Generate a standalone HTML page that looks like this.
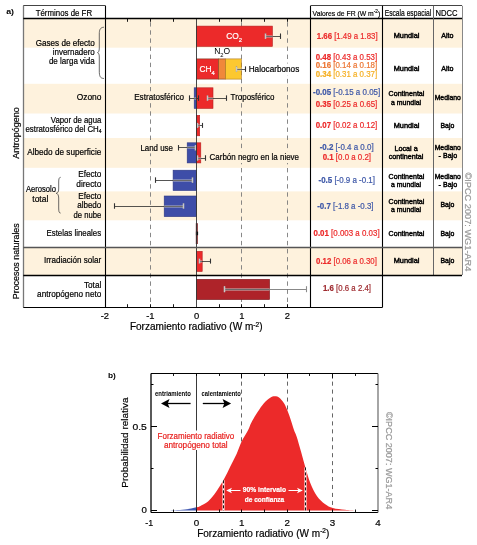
<!DOCTYPE html>
<html><head><meta charset="utf-8"><style>
html,body{margin:0;padding:0;background:#fff;}
body{width:477px;height:545px;overflow:hidden;}
svg{display:block;font-family:"Liberation Sans", sans-serif;will-change:transform;}
text{stroke-width:0.2px;}
</style></head><body>
<svg width="477" height="545" viewBox="0 0 477 545">
<rect x="23.3" y="18.8" width="438.7" height="28.900000000000002" fill="#FEF2DD"/>
<rect x="23.3" y="83.8" width="438.7" height="29.700000000000003" fill="#FEF2DD"/>
<rect x="23.3" y="138.0" width="438.7" height="29.80000000000001" fill="#FEF2DD"/>
<rect x="23.3" y="191.4" width="438.7" height="28.900000000000006" fill="#FEF2DD"/>
<rect x="23.3" y="247.5" width="438.7" height="27.5" fill="#FEF2DD"/>
<line x1="150.5" y1="18.8" x2="150.5" y2="307.2" stroke="#7a7a7a" stroke-width="0.9" stroke-dasharray="4.4 3.7" stroke-dashoffset="4.7"/>
<line x1="241.5" y1="18.8" x2="241.5" y2="307.2" stroke="#7a7a7a" stroke-width="0.9" stroke-dasharray="4.4 3.7" stroke-dashoffset="4.7"/>
<line x1="287.5" y1="18.8" x2="287.5" y2="307.2" stroke="#7a7a7a" stroke-width="0.9" stroke-dasharray="4.4 3.7" stroke-dashoffset="4.7"/>
<line x1="127.5" y1="18.8" x2="127.5" y2="21.8" stroke="#000" stroke-width="0.9" />
<line x1="127.5" y1="307.2" x2="127.5" y2="304.2" stroke="#000" stroke-width="0.9" />
<line x1="150.5" y1="18.8" x2="150.5" y2="21.8" stroke="#000" stroke-width="0.9" />
<line x1="150.5" y1="307.2" x2="150.5" y2="304.2" stroke="#000" stroke-width="0.9" />
<line x1="173.5" y1="18.8" x2="173.5" y2="21.8" stroke="#000" stroke-width="0.9" />
<line x1="173.5" y1="307.2" x2="173.5" y2="304.2" stroke="#000" stroke-width="0.9" />
<line x1="219.5" y1="18.8" x2="219.5" y2="21.8" stroke="#000" stroke-width="0.9" />
<line x1="219.5" y1="307.2" x2="219.5" y2="304.2" stroke="#000" stroke-width="0.9" />
<line x1="241.5" y1="18.8" x2="241.5" y2="21.8" stroke="#000" stroke-width="0.9" />
<line x1="241.5" y1="307.2" x2="241.5" y2="304.2" stroke="#000" stroke-width="0.9" />
<line x1="264.5" y1="18.8" x2="264.5" y2="21.8" stroke="#000" stroke-width="0.9" />
<line x1="264.5" y1="307.2" x2="264.5" y2="304.2" stroke="#000" stroke-width="0.9" />
<line x1="287.5" y1="18.8" x2="287.5" y2="21.8" stroke="#000" stroke-width="0.9" />
<line x1="287.5" y1="307.2" x2="287.5" y2="304.2" stroke="#000" stroke-width="0.9" />
<rect x="196.5" y="26.1" width="75.89999999999998" height="20.3" fill="#EC2A2A" stroke="#b52020" stroke-width="0.6"/>
<line x1="265.0" y1="36.5" x2="280.0" y2="36.5" stroke="#2a2a2a" stroke-width="0.8" />
<line x1="265.5" y1="33.45" x2="265.5" y2="38.95" stroke="#333" stroke-width="1.1" />
<line x1="280.5" y1="33.45" x2="280.5" y2="38.95" stroke="#333" stroke-width="1.1" />
<line x1="265.0" y1="36.5" x2="272.6" y2="36.5" stroke="#c4c4c4" stroke-width="1.9" />
<line x1="265.0" y1="36.5" x2="272.6" y2="36.5" stroke="#444" stroke-width="0.7" />
<line x1="265.5" y1="33.45" x2="265.5" y2="38.95" stroke="#c8c8c8" stroke-width="1.5" />
<rect x="196.5" y="58.9" width="21.80000000000001" height="20.2" fill="#EC2A2A" stroke="#7a3a20" stroke-width="0.6"/>
<rect x="218.3" y="58.9" width="7.199999999999989" height="20.2" fill="#F0883A" stroke="#7a3a20" stroke-width="0.6"/>
<rect x="225.5" y="58.9" width="15.800000000000011" height="20.2" fill="#FCC830" stroke="#b07a20" stroke-width="0.6"/>
<line x1="236.5" y1="69.5" x2="245.4" y2="69.5" stroke="#2a2a2a" stroke-width="0.8" />
<line x1="236.5" y1="66.35" x2="236.5" y2="71.85" stroke="#333" stroke-width="1.1" />
<line x1="245.5" y1="66.35" x2="245.5" y2="71.85" stroke="#333" stroke-width="1.1" />
<line x1="236.5" y1="69.5" x2="241.3" y2="69.5" stroke="#c4c4c4" stroke-width="1.9" />
<line x1="236.5" y1="69.5" x2="241.3" y2="69.5" stroke="#444" stroke-width="0.7" />
<line x1="236.5" y1="66.35" x2="236.5" y2="71.85" stroke="#c8c8c8" stroke-width="1.5" />
<rect x="194.2" y="87.8" width="2.3000000000000114" height="20.6" fill="#3E4DA8" stroke="#2b3680" stroke-width="0.6"/>
<rect x="196.5" y="87.8" width="16.5" height="20.6" fill="#EC2A2A" stroke="#b52020" stroke-width="0.6"/>
<line x1="189.4" y1="98.5" x2="198.9" y2="98.5" stroke="#2a2a2a" stroke-width="0.8" />
<line x1="189.5" y1="95.35" x2="189.5" y2="100.85" stroke="#333" stroke-width="1.1" />
<line x1="198.5" y1="95.35" x2="198.5" y2="100.85" stroke="#333" stroke-width="1.1" />
<line x1="194.2" y1="98.5" x2="196.5" y2="98.5" stroke="#c4c4c4" stroke-width="1.9" />
<line x1="194.2" y1="98.5" x2="196.5" y2="98.5" stroke="#444" stroke-width="0.7" />
<line x1="207.7" y1="98.5" x2="226.5" y2="98.5" stroke="#2a2a2a" stroke-width="0.8" />
<line x1="207.5" y1="95.35" x2="207.5" y2="100.85" stroke="#333" stroke-width="1.1" />
<line x1="226.5" y1="95.35" x2="226.5" y2="100.85" stroke="#333" stroke-width="1.1" />
<line x1="207.7" y1="98.5" x2="213.0" y2="98.5" stroke="#c4c4c4" stroke-width="1.9" />
<line x1="207.7" y1="98.5" x2="213.0" y2="98.5" stroke="#444" stroke-width="0.7" />
<line x1="207.5" y1="95.35" x2="207.5" y2="100.85" stroke="#c8c8c8" stroke-width="1.5" />
<rect x="196.5" y="115.3" width="3.1999999999999886" height="20.5" fill="#EC2A2A" stroke="#b52020" stroke-width="0.6"/>
<line x1="197.7" y1="125.5" x2="202.4" y2="125.5" stroke="#2a2a2a" stroke-width="0.8" />
<line x1="197.5" y1="122.9" x2="197.5" y2="127.9" stroke="#333" stroke-width="1.1" />
<line x1="202.5" y1="122.9" x2="202.5" y2="127.9" stroke="#333" stroke-width="1.1" />
<line x1="197.7" y1="125.5" x2="199.7" y2="125.5" stroke="#c4c4c4" stroke-width="1.9" />
<line x1="197.7" y1="125.5" x2="199.7" y2="125.5" stroke="#444" stroke-width="0.7" />
<line x1="197.5" y1="122.9" x2="197.5" y2="127.9" stroke="#c8c8c8" stroke-width="1.5" />
<rect x="187.2" y="142.8" width="9.300000000000011" height="20.1" fill="#3E4DA8" stroke="#2b3680" stroke-width="0.6"/>
<rect x="196.5" y="142.8" width="4.300000000000011" height="20.1" fill="#EC2A2A" stroke="#b52020" stroke-width="0.6"/>
<line x1="178.4" y1="147.5" x2="195.8" y2="147.5" stroke="#2a2a2a" stroke-width="0.8" />
<line x1="178.5" y1="145.05" x2="178.5" y2="150.55" stroke="#333" stroke-width="1.1" />
<line x1="195.5" y1="145.05" x2="195.5" y2="150.55" stroke="#333" stroke-width="1.1" />
<line x1="187.2" y1="147.5" x2="195.8" y2="147.5" stroke="#c4c4c4" stroke-width="1.9" />
<line x1="187.2" y1="147.5" x2="195.8" y2="147.5" stroke="#444" stroke-width="0.7" />
<line x1="195.5" y1="145.05" x2="195.5" y2="150.55" stroke="#c8c8c8" stroke-width="1.5" />
<line x1="197.0" y1="158.5" x2="205.8" y2="158.5" stroke="#2a2a2a" stroke-width="0.8" />
<line x1="197.5" y1="155.25" x2="197.5" y2="160.75" stroke="#333" stroke-width="1.1" />
<line x1="205.5" y1="155.25" x2="205.5" y2="160.75" stroke="#333" stroke-width="1.1" />
<line x1="197.0" y1="158.5" x2="200.8" y2="158.5" stroke="#c4c4c4" stroke-width="1.9" />
<line x1="197.0" y1="158.5" x2="200.8" y2="158.5" stroke="#444" stroke-width="0.7" />
<line x1="197.5" y1="155.25" x2="197.5" y2="160.75" stroke="#c8c8c8" stroke-width="1.5" />
<rect x="173.1" y="170.2" width="23.400000000000006" height="20.3" fill="#3E4DA8" stroke="#2b3680" stroke-width="0.6"/>
<line x1="155.3" y1="180.5" x2="192.6" y2="180.5" stroke="#2a2a2a" stroke-width="0.8" />
<line x1="155.5" y1="177.35" x2="155.5" y2="182.85" stroke="#333" stroke-width="1.1" />
<line x1="192.5" y1="177.35" x2="192.5" y2="182.85" stroke="#333" stroke-width="1.1" />
<line x1="173.1" y1="180.5" x2="192.6" y2="180.5" stroke="#c4c4c4" stroke-width="1.9" />
<line x1="173.1" y1="180.5" x2="192.6" y2="180.5" stroke="#444" stroke-width="0.7" />
<line x1="192.5" y1="177.35" x2="192.5" y2="182.85" stroke="#c8c8c8" stroke-width="1.5" />
<rect x="164.2" y="196.0" width="32.30000000000001" height="20.6" fill="#3E4DA8" stroke="#2b3680" stroke-width="0.6"/>
<line x1="114.6" y1="206.5" x2="183.0" y2="206.5" stroke="#2a2a2a" stroke-width="0.8" />
<line x1="114.5" y1="203.25" x2="114.5" y2="208.75" stroke="#333" stroke-width="1.1" />
<line x1="183.5" y1="203.25" x2="183.5" y2="208.75" stroke="#333" stroke-width="1.1" />
<line x1="164.2" y1="206.5" x2="183.0" y2="206.5" stroke="#c4c4c4" stroke-width="1.9" />
<line x1="164.2" y1="206.5" x2="183.0" y2="206.5" stroke="#444" stroke-width="0.7" />
<line x1="183.5" y1="203.25" x2="183.5" y2="208.75" stroke="#c8c8c8" stroke-width="1.5" />
<rect x="195.8" y="223.2" width="2.1" height="20.8" fill="#8c3a3c"/>
<rect x="195.9" y="231.6" width="2.2" height="3.6" fill="#111"/>
<rect x="196.5" y="251.3" width="5.699999999999989" height="20.2" fill="#EC2A2A" stroke="#b52020" stroke-width="0.6"/>
<line x1="199.0" y1="261.5" x2="210.2" y2="261.5" stroke="#2a2a2a" stroke-width="0.8" />
<line x1="199.5" y1="258.6" x2="199.5" y2="263.6" stroke="#333" stroke-width="1.1" />
<line x1="210.5" y1="258.6" x2="210.5" y2="263.6" stroke="#333" stroke-width="1.1" />
<line x1="199.0" y1="261.5" x2="202.0" y2="261.5" stroke="#c4c4c4" stroke-width="1.9" />
<line x1="199.0" y1="261.5" x2="202.0" y2="261.5" stroke="#444" stroke-width="0.7" />
<line x1="199.5" y1="258.6" x2="199.5" y2="263.6" stroke="#c8c8c8" stroke-width="1.5" />
<rect x="196.5" y="279.3" width="73.10000000000002" height="20.3" fill="#AE2329" stroke="#7a1a1e" stroke-width="0.6"/>
<line x1="224.0" y1="289.5" x2="306.3" y2="289.5" stroke="#6a6a6a" stroke-width="0.8" />
<line x1="224.5" y1="286.2" x2="224.5" y2="292.2" stroke="#8a8a8a" stroke-width="1.1" />
<line x1="306.5" y1="286.2" x2="306.5" y2="292.2" stroke="#8a8a8a" stroke-width="1.1" />
<line x1="224.0" y1="289.5" x2="269.6" y2="289.5" stroke="#c4c4c4" stroke-width="1.9" />
<line x1="224.0" y1="289.5" x2="269.6" y2="289.5" stroke="#444" stroke-width="0.7" />
<line x1="224.5" y1="286.2" x2="224.5" y2="292.2" stroke="#c8c8c8" stroke-width="1.5" />
<line x1="196.5" y1="18.8" x2="196.5" y2="307.2" stroke="#333" stroke-width="0.9" />
<line x1="23.5" y1="5.8" x2="23.5" y2="307.2" stroke="#777" stroke-width="1.3" />
<line x1="23.3" y1="5.5" x2="105.5" y2="5.5" stroke="#444" stroke-width="1.0" />
<line x1="23.3" y1="18.5" x2="462.0" y2="18.5" stroke="#000" stroke-width="1.3" />
<line x1="105.5" y1="5.8" x2="105.5" y2="307.2" stroke="#000" stroke-width="1.1" />
<line x1="310.6" y1="5.5" x2="462.0" y2="5.5" stroke="#444" stroke-width="1.0" />
<line x1="310.5" y1="5.8" x2="310.5" y2="307.2" stroke="#000" stroke-width="1.1" />
<line x1="382.5" y1="5.8" x2="382.5" y2="307.2" stroke="#000" stroke-width="1.1" />
<line x1="433.5" y1="5.8" x2="433.5" y2="275.0" stroke="#666" stroke-width="1.0" />
<line x1="462.5" y1="5.8" x2="462.5" y2="275.0" stroke="#888" stroke-width="1.0" />
<line x1="23.3" y1="247.5" x2="462.0" y2="247.5" stroke="#555" stroke-width="1.4" />
<line x1="23.3" y1="275.5" x2="462.0" y2="275.5" stroke="#000" stroke-width="1.7" />
<line x1="23.3" y1="307.5" x2="382.6" y2="307.5" stroke="#000" stroke-width="1.2" />
<path d="M103.9 27.2 C100 27.5 99.3 30 99.3 34 L99.3 48 C99.3 51 98.5 52.5 97.5 52.6 C98.5 52.8 99.3 54 99.3 57 L99.3 71 C99.3 76 100 78.3 103.9 78.5" fill="none" stroke="#444" stroke-width="0.8"/>
<path d="M60.6 177.3 C59 177.5 58.7 179 58.7 182 L58.7 189 C58.7 192 57.5 193.2 56.2 193.3 C57.5 193.5 58.7 195 58.7 198 L58.7 208 C58.7 211.5 59 213 60.6 213.1" fill="none" stroke="#444" stroke-width="0.8"/>
<text x="6.20" y="13.6" font-size="8" font-weight="bold" fill="#000" textLength="7.90" lengthAdjust="spacingAndGlyphs" stroke="none">a)</text>
<text x="35.70" y="15.9" font-size="8.6" font-weight="normal" fill="#000" textLength="56.40" lengthAdjust="spacingAndGlyphs"  stroke="#000">Términos de FR</text>
<text x="35.70" y="45.5" font-size="8.6" font-weight="normal" fill="#000" textLength="59.10" lengthAdjust="spacingAndGlyphs"  stroke="#000">Gases de efecto</text>
<text x="52.70" y="54.5" font-size="8.6" font-weight="normal" fill="#000" textLength="42.10" lengthAdjust="spacingAndGlyphs"  stroke="#000">invernadero</text>
<text x="48.90" y="63.5" font-size="8.6" font-weight="normal" fill="#000" textLength="45.90" lengthAdjust="spacingAndGlyphs"  stroke="#000">de larga vida</text>
<text x="76.70" y="100.1" font-size="8.6" font-weight="normal" fill="#000" textLength="24.70" lengthAdjust="spacingAndGlyphs"  stroke="#000">Ozono</text>
<text x="50.80" y="122.7" font-size="8.6" font-weight="normal" fill="#000" textLength="50.50" lengthAdjust="spacingAndGlyphs"  stroke="#000">Vapor de agua</text>
<text x="25.4" y="132.2" font-size="8.6" textLength="76.2" lengthAdjust="spacingAndGlyphs" stroke="#000">estratosférico del CH<tspan font-size="5.5" dy="1.2">4</tspan></text>
<text x="27.20" y="154.8" font-size="8.6" font-weight="normal" fill="#000" textLength="74.10" lengthAdjust="spacingAndGlyphs"  stroke="#000">Albedo de superficie</text>
<text x="78.20" y="176.7" font-size="8.6" font-weight="normal" fill="#000" textLength="23.20" lengthAdjust="spacingAndGlyphs"  stroke="#000">Efecto</text>
<text x="76.30" y="186.5" font-size="8.6" font-weight="normal" fill="#000" textLength="25.00" lengthAdjust="spacingAndGlyphs"  stroke="#000">directo</text>
<text x="78.20" y="198.6" font-size="8.6" font-weight="normal" fill="#000" textLength="23.20" lengthAdjust="spacingAndGlyphs"  stroke="#000">Efecto</text>
<text x="77.20" y="208.0" font-size="8.6" font-weight="normal" fill="#000" textLength="24.10" lengthAdjust="spacingAndGlyphs"  stroke="#000">albedo</text>
<text x="73.50" y="217.6" font-size="8.6" font-weight="normal" fill="#000" textLength="27.80" lengthAdjust="spacingAndGlyphs"  stroke="#000">de nube</text>
<text x="25.90" y="191.8" font-size="8.6" font-weight="normal" fill="#000" textLength="30.10" lengthAdjust="spacingAndGlyphs"  stroke="#000">Aerosolo</text>
<text x="32.30" y="201.6" font-size="8.6" font-weight="normal" fill="#000" textLength="16.00" lengthAdjust="spacingAndGlyphs"  stroke="#000">total</text>
<text x="46.50" y="236.0" font-size="8.6" font-weight="normal" fill="#000" textLength="54.60" lengthAdjust="spacingAndGlyphs"  stroke="#000">Estelas lineales</text>
<text x="43.90" y="263.0" font-size="8.6" font-weight="normal" fill="#000" textLength="57.40" lengthAdjust="spacingAndGlyphs"  stroke="#000">Irradiación solar</text>
<text x="83.90" y="288.0" font-size="8.6" font-weight="normal" fill="#000" textLength="17.40" lengthAdjust="spacingAndGlyphs"  stroke="#000">Total</text>
<text x="37.10" y="297.3" font-size="8.6" font-weight="normal" fill="#000" textLength="64.20" lengthAdjust="spacingAndGlyphs"  stroke="#000">antropógeno neto</text>
<text transform="translate(19.4,132.9) rotate(-90)" font-size="8.6" text-anchor="middle" textLength="51.5" lengthAdjust="spacingAndGlyphs" stroke="#000">Antropógeno</text>
<text transform="translate(19.4,261.25) rotate(-90)" font-size="8.6" text-anchor="middle" textLength="76" lengthAdjust="spacingAndGlyphs" stroke="#000">Procesos naturales</text>
<text x="226.2" y="39.4" font-size="8.6" fill="#fff" textLength="15.8" lengthAdjust="spacingAndGlyphs" stroke="#fff">CO<tspan font-size="6" dy="2.6">2</tspan></text>
<text x="214.2" y="53.9" font-size="8.8" fill="#000" style="stroke-width:0" textLength="16" lengthAdjust="spacingAndGlyphs" stroke="#000">N<tspan font-size="6" dy="3.2">2</tspan><tspan dy="-3.2">O</tspan></text>
<text x="199.5" y="71.6" font-size="8.6" fill="#fff" textLength="15.3" lengthAdjust="spacingAndGlyphs" stroke="#fff">CH<tspan font-size="6" dy="2.9">4</tspan></text>
<rect x="248.5" y="63.5" width="51" height="11.5" fill="#fff"/>
<text x="248.70" y="72.0" font-size="8.6" font-weight="normal" fill="#000" textLength="50.60" lengthAdjust="spacingAndGlyphs"  stroke="#000">Halocarbonos</text>
<rect x="134" y="91.5" width="50" height="10.5" fill="#FEF2DD"/>
<text x="134.20" y="99.7" font-size="8.6" font-weight="normal" fill="#000" textLength="49.80" lengthAdjust="spacingAndGlyphs"  stroke="#000">Estratosférico</text>
<text x="230.60" y="99.7" font-size="8.6" font-weight="normal" fill="#000" textLength="43.90" lengthAdjust="spacingAndGlyphs"  stroke="#000">Troposférico</text>
<rect x="140" y="142.8" width="33" height="10.6" fill="#FEF2DD"/>
<text x="140.40" y="150.8" font-size="8.6" font-weight="normal" fill="#000" textLength="32.60" lengthAdjust="spacingAndGlyphs"  stroke="#000">Land use</text>
<rect x="209.5" y="151.5" width="90" height="11.5" fill="#FEF2DD"/>
<text x="209.60" y="160.0" font-size="8.6" font-weight="normal" fill="#000" textLength="89.40" lengthAdjust="spacingAndGlyphs"  stroke="#000">Carbón negro en la nieve</text>
<text x="104.80000000000001" y="318.5" font-size="9.4" text-anchor="middle" font-weight="normal" fill="#000"  stroke="#000">-2</text>
<text x="150.35" y="318.5" font-size="9.4" text-anchor="middle" font-weight="normal" fill="#000"  stroke="#000">-1</text>
<text x="196.5" y="318.5" font-size="9.4" text-anchor="middle" font-weight="normal" fill="#000"  stroke="#000">0</text>
<text x="241.85000000000002" y="318.5" font-size="9.4" text-anchor="middle" font-weight="normal" fill="#000"  stroke="#000">1</text>
<text x="287.4" y="318.5" font-size="9.4" text-anchor="middle" font-weight="normal" fill="#000"  stroke="#000">2</text>
<text x="129.9" y="330.3" font-size="10.4" textLength="132.6" lengthAdjust="spacingAndGlyphs" stroke="#000">Forzamiento radiativo (W m<tspan font-size="6.8" dy="-3.8">-2</tspan><tspan dy="3.8">)</tspan></text>
<text x="312.6" y="16.3" font-size="8" textLength="67.6" lengthAdjust="spacingAndGlyphs" stroke="#000">Valores de FR (W m<tspan font-size="5.5" dy="-3">-2</tspan><tspan dy="3">)</tspan></text>
<text x="316.80" y="38.8" font-size="8.2" fill="#EC2A2A" textLength="60.80" lengthAdjust="spacingAndGlyphs" stroke="#EC2A2A"><tspan font-weight="bold">1.66</tspan> [1.49 a 1.83]</text>
<text x="315.70" y="59.8" font-size="8.2" fill="#EC2A2A" textLength="61.50" lengthAdjust="spacingAndGlyphs" stroke="#EC2A2A"><tspan font-weight="bold">0.48</tspan> [0.43 a 0.53]</text>
<text x="315.70" y="68.4" font-size="8.2" fill="#EC7634" textLength="61.50" lengthAdjust="spacingAndGlyphs" stroke="#EC7634"><tspan font-weight="bold">0.16</tspan> [0.14 a 0.18]</text>
<text x="315.70" y="76.8" font-size="8.2" fill="#F5B025" textLength="61.50" lengthAdjust="spacingAndGlyphs" stroke="#F5B025"><tspan font-weight="bold">0.34</tspan> [0.31 a 0.37]</text>
<text x="313.00" y="94.7" font-size="8.2" fill="#3E58A8" textLength="67.20" lengthAdjust="spacingAndGlyphs" stroke="#3E58A8"><tspan font-weight="bold">-0.05</tspan> [-0.15 a 0.05]</text>
<text x="315.70" y="107.0" font-size="8.2" fill="#EC2A2A" textLength="61.60" lengthAdjust="spacingAndGlyphs" stroke="#EC2A2A"><tspan font-weight="bold">0.35</tspan> [0.25 a 0.65]</text>
<text x="315.70" y="128.0" font-size="8.2" fill="#EC2A2A" textLength="61.60" lengthAdjust="spacingAndGlyphs" stroke="#EC2A2A"><tspan font-weight="bold">0.07</tspan> [0.02 a 0.12]</text>
<text x="319.70" y="150.0" font-size="8.2" fill="#3E58A8" textLength="53.90" lengthAdjust="spacingAndGlyphs" stroke="#3E58A8"><tspan font-weight="bold">-0.2</tspan> [-0.4 a 0.0]</text>
<text x="322.70" y="160.3" font-size="8.2" fill="#EC2A2A" textLength="48.30" lengthAdjust="spacingAndGlyphs" stroke="#EC2A2A"><tspan font-weight="bold">0.1</tspan> [0.0 a 0.2]</text>
<text x="318.50" y="183.0" font-size="8.2" fill="#3E58A8" textLength="56.50" lengthAdjust="spacingAndGlyphs" stroke="#3E58A8"><tspan font-weight="bold">-0.5</tspan> [-0.9 a -0.1]</text>
<text x="317.20" y="209.3" font-size="8.2" fill="#3E58A8" textLength="56.40" lengthAdjust="spacingAndGlyphs" stroke="#3E58A8"><tspan font-weight="bold">-0.7</tspan> [-1.8 a -0.3]</text>
<text x="313.50" y="236.1" font-size="8.2" fill="#EC2A2A" textLength="66.10" lengthAdjust="spacingAndGlyphs" stroke="#EC2A2A"><tspan font-weight="bold">0.01</tspan> [0.003 a 0.03]</text>
<text x="316.10" y="263.6" font-size="8.2" fill="#EC2A2A" textLength="60.80" lengthAdjust="spacingAndGlyphs" stroke="#EC2A2A"><tspan font-weight="bold">0.12</tspan> [0.06 a 0.30]</text>
<text x="323.00" y="291.1" font-size="8.2" fill="#9E2A2F" textLength="48.00" lengthAdjust="spacingAndGlyphs" stroke="#9E2A2F"><tspan font-weight="bold">1.6</tspan> [0.6 a 2.4]</text>
<text x="384.70" y="16.3" font-size="8.6" font-weight="normal" fill="#000" textLength="46.50" lengthAdjust="spacingAndGlyphs"  stroke="#000">Escala espacial</text>
<text x="435.40" y="16.3" font-size="8.6" font-weight="normal" fill="#000" textLength="22.00" lengthAdjust="spacingAndGlyphs"  stroke="#000">NDCC</text>
<text x="393.70" y="38.1" font-size="6.9" font-weight="normal" fill="#000" textLength="25.80" lengthAdjust="spacingAndGlyphs"  style="stroke-width:0.42px" stroke="#000">Mundial</text>
<text x="441.20" y="38.1" font-size="6.9" font-weight="normal" fill="#000" textLength="12.20" lengthAdjust="spacingAndGlyphs"  style="stroke-width:0.42px" stroke="#000">Alto</text>
<text x="393.70" y="70.8" font-size="6.9" font-weight="normal" fill="#000" textLength="25.80" lengthAdjust="spacingAndGlyphs"  style="stroke-width:0.42px" stroke="#000">Mundial</text>
<text x="441.20" y="70.8" font-size="6.9" font-weight="normal" fill="#000" textLength="12.20" lengthAdjust="spacingAndGlyphs"  style="stroke-width:0.42px" stroke="#000">Alto</text>
<text x="388.60" y="96.0" font-size="6.9" font-weight="normal" fill="#000" textLength="35.80" lengthAdjust="spacingAndGlyphs"  style="stroke-width:0.42px" stroke="#000">Continental</text>
<text x="391.10" y="104.5" font-size="6.9" font-weight="normal" fill="#000" textLength="30.00" lengthAdjust="spacingAndGlyphs"  style="stroke-width:0.42px" stroke="#000">a mundial</text>
<text x="434.70" y="100.0" font-size="6.9" font-weight="normal" fill="#000" textLength="26.10" lengthAdjust="spacingAndGlyphs"  style="stroke-width:0.42px" stroke="#000">Mediano</text>
<text x="393.70" y="127.7" font-size="6.9" font-weight="normal" fill="#000" textLength="25.80" lengthAdjust="spacingAndGlyphs"  style="stroke-width:0.42px" stroke="#000">Mundial</text>
<text x="440.50" y="127.7" font-size="6.9" font-weight="normal" fill="#000" textLength="13.80" lengthAdjust="spacingAndGlyphs"  style="stroke-width:0.42px" stroke="#000">Bajo</text>
<text x="394.40" y="151.0" font-size="6.9" font-weight="normal" fill="#000" textLength="23.30" lengthAdjust="spacingAndGlyphs"  style="stroke-width:0.42px" stroke="#000">Local a</text>
<text x="388.70" y="158.6" font-size="6.9" font-weight="normal" fill="#000" textLength="34.60" lengthAdjust="spacingAndGlyphs"  style="stroke-width:0.42px" stroke="#000">continental</text>
<text x="434.70" y="150.1" font-size="6.9" font-weight="normal" fill="#000" textLength="26.10" lengthAdjust="spacingAndGlyphs"  style="stroke-width:0.42px" stroke="#000">Mediano</text>
<text x="438.60" y="158.0" font-size="6.9" font-weight="normal" fill="#000" textLength="18.50" lengthAdjust="spacingAndGlyphs"  style="stroke-width:0.42px" stroke="#000">- Bajo</text>
<text x="388.60" y="178.9" font-size="6.9" font-weight="normal" fill="#000" textLength="35.80" lengthAdjust="spacingAndGlyphs"  style="stroke-width:0.42px" stroke="#000">Continental</text>
<text x="391.10" y="186.8" font-size="6.9" font-weight="normal" fill="#000" textLength="30.00" lengthAdjust="spacingAndGlyphs"  style="stroke-width:0.42px" stroke="#000">a mundial</text>
<text x="434.70" y="178.9" font-size="6.9" font-weight="normal" fill="#000" textLength="26.10" lengthAdjust="spacingAndGlyphs"  style="stroke-width:0.42px" stroke="#000">Mediano</text>
<text x="438.60" y="186.5" font-size="6.9" font-weight="normal" fill="#000" textLength="18.50" lengthAdjust="spacingAndGlyphs"  style="stroke-width:0.42px" stroke="#000">- Bajo</text>
<text x="388.60" y="204.1" font-size="6.9" font-weight="normal" fill="#000" textLength="35.80" lengthAdjust="spacingAndGlyphs"  style="stroke-width:0.42px" stroke="#000">Continental</text>
<text x="391.10" y="212.0" font-size="6.9" font-weight="normal" fill="#000" textLength="30.00" lengthAdjust="spacingAndGlyphs"  style="stroke-width:0.42px" stroke="#000">a mundial</text>
<text x="440.50" y="207.4" font-size="6.9" font-weight="normal" fill="#000" textLength="13.80" lengthAdjust="spacingAndGlyphs"  style="stroke-width:0.42px" stroke="#000">Bajo</text>
<text x="388.60" y="235.8" font-size="6.9" font-weight="normal" fill="#000" textLength="35.80" lengthAdjust="spacingAndGlyphs"  style="stroke-width:0.42px" stroke="#000">Continental</text>
<text x="440.50" y="235.8" font-size="6.9" font-weight="normal" fill="#000" textLength="13.80" lengthAdjust="spacingAndGlyphs"  style="stroke-width:0.42px" stroke="#000">Bajo</text>
<text x="393.70" y="262.7" font-size="6.9" font-weight="normal" fill="#000" textLength="25.80" lengthAdjust="spacingAndGlyphs"  style="stroke-width:0.42px" stroke="#000">Mundial</text>
<text x="440.50" y="262.7" font-size="6.9" font-weight="normal" fill="#000" textLength="13.80" lengthAdjust="spacingAndGlyphs"  style="stroke-width:0.42px" stroke="#000">Bajo</text>
<text transform="translate(465,172.4) rotate(90)" font-size="8.6" fill="#999" textLength="99" lengthAdjust="spacingAndGlyphs" stroke="#999">©IPCC  2007: WG1-AR4</text>
<clipPath id="cr"><rect x="196.5" y="370" width="200" height="142"/></clipPath>
<clipPath id="cb"><rect x="150" y="370" width="46.5" height="142"/></clipPath>
<line x1="241.5" y1="373.5" x2="241.5" y2="512.5" stroke="#555" stroke-width="0.9" stroke-dasharray="4.1 3.85" stroke-dashoffset="7.8"/>
<line x1="287.5" y1="373.5" x2="287.5" y2="512.5" stroke="#555" stroke-width="0.9" stroke-dasharray="4.1 3.85" stroke-dashoffset="7.8"/>
<line x1="332.5" y1="373.5" x2="332.5" y2="512.5" stroke="#555" stroke-width="0.9" stroke-dasharray="4.1 3.85" stroke-dashoffset="7.8"/>
<path d="M163,510.6 C165.00,510.53 171.33,510.37 175,510.2 C178.67,510.03 181.42,510.08 185,509.6 C188.58,509.12 194.00,507.87 196.5,507.3 C199.00,506.73 198.08,507.15 200,506.2 C201.92,505.25 205.33,503.97 208,501.6 C210.67,499.23 213.35,495.72 216,492 C218.65,488.28 221.52,483.55 223.9,479.3 C226.28,475.05 228.17,470.77 230.3,466.5 C232.43,462.23 234.82,457.87 236.7,453.7 C238.58,449.53 239.73,445.37 241.6,441.5 C243.47,437.63 246.28,433.63 247.9,430.5 C249.52,427.37 249.68,425.78 251.3,422.7 C252.92,419.62 255.50,415.25 257.6,412 C259.70,408.75 261.80,405.57 263.9,403.2 C266.00,400.83 268.42,398.95 270.2,397.8 C271.98,396.65 273.13,396.35 274.6,396.3 C276.07,396.25 277.43,396.35 279,397.5 C280.57,398.65 282.53,400.88 284,403.2 C285.47,405.52 286.65,408.57 287.8,411.4 C288.95,414.23 289.87,417.10 290.9,420.2 C291.93,423.30 293.05,427.28 294,430 C294.95,432.72 295.43,432.92 296.6,436.5 C297.77,440.08 299.53,446.32 301,451.5 C302.47,456.68 303.82,462.27 305.4,467.6 C306.98,472.93 308.58,478.77 310.5,483.5 C312.42,488.23 314.50,492.58 316.9,496 C319.30,499.42 322.23,502.00 324.9,504 C327.57,506.00 329.55,507.03 332.9,508 C336.25,508.97 341.15,509.37 345,509.8 C348.85,510.23 354.17,510.47 356,510.6 L356,510.6 L163,510.6 Z" fill="#EC2A2A" clip-path="url(#cr)"/>
<path d="M163,510.6 C165.00,510.53 171.33,510.37 175,510.2 C178.67,510.03 181.42,510.08 185,509.6 C188.58,509.12 194.00,507.87 196.5,507.3 C199.00,506.73 198.08,507.15 200,506.2 C201.92,505.25 205.33,503.97 208,501.6 C210.67,499.23 213.35,495.72 216,492 C218.65,488.28 221.52,483.55 223.9,479.3 C226.28,475.05 228.17,470.77 230.3,466.5 C232.43,462.23 234.82,457.87 236.7,453.7 C238.58,449.53 239.73,445.37 241.6,441.5 C243.47,437.63 246.28,433.63 247.9,430.5 C249.52,427.37 249.68,425.78 251.3,422.7 C252.92,419.62 255.50,415.25 257.6,412 C259.70,408.75 261.80,405.57 263.9,403.2 C266.00,400.83 268.42,398.95 270.2,397.8 C271.98,396.65 273.13,396.35 274.6,396.3 C276.07,396.25 277.43,396.35 279,397.5 C280.57,398.65 282.53,400.88 284,403.2 C285.47,405.52 286.65,408.57 287.8,411.4 C288.95,414.23 289.87,417.10 290.9,420.2 C291.93,423.30 293.05,427.28 294,430 C294.95,432.72 295.43,432.92 296.6,436.5 C297.77,440.08 299.53,446.32 301,451.5 C302.47,456.68 303.82,462.27 305.4,467.6 C306.98,472.93 308.58,478.77 310.5,483.5 C312.42,488.23 314.50,492.58 316.9,496 C319.30,499.42 322.23,502.00 324.9,504 C327.57,506.00 329.55,507.03 332.9,508 C336.25,508.97 341.15,509.37 345,509.8 C348.85,510.23 354.17,510.47 356,510.6 L356,510.6 L163,510.6 Z" fill="#3E56B0" clip-path="url(#cb)"/>
<line x1="196.5" y1="373.5" x2="196.5" y2="512.5" stroke="#222" stroke-width="0.9" />
<line x1="223.5" y1="480.3" x2="223.5" y2="510.6" stroke="#fff" stroke-width="2.0" />
<line x1="223.5" y1="480.3" x2="223.5" y2="510.6" stroke="#000" stroke-width="0.9" stroke-dasharray="3 2"/>
<line x1="305.5" y1="467.4" x2="305.5" y2="510.6" stroke="#fff" stroke-width="2.0" />
<line x1="305.5" y1="467.4" x2="305.5" y2="510.6" stroke="#000" stroke-width="0.9" stroke-dasharray="3 2"/>
<path d="M229.5 490.5 L240.5 490.5 M288.5 490.5 L299.5 490.5" stroke="#fff" stroke-width="1.2"/>
<path d="M226.2 490.5 L232 487.7 L230.5 490.5 L232 493.3 Z" fill="#fff"/>
<path d="M302.8 490.5 L297 487.7 L298.5 490.5 L297 493.3 Z" fill="#fff"/>
<text x="264.4" y="492.3" font-size="6.3" text-anchor="middle" font-weight="bold" fill="#fff" textLength="43.3" lengthAdjust="spacingAndGlyphs"  stroke="#fff">90% intervalo</text>
<text x="264.5" y="501.6" font-size="6.3" text-anchor="middle" font-weight="bold" fill="#fff" textLength="39.5" lengthAdjust="spacingAndGlyphs"  stroke="#fff">de confianza</text>
<line x1="151.0" y1="373.5" x2="378.0" y2="373.5" stroke="#000" stroke-width="1.2" />
<line x1="151.0" y1="512.5" x2="378.0" y2="512.5" stroke="#000" stroke-width="1.2" />
<line x1="151.0" y1="373.5" x2="151.0" y2="512.5" stroke="#000" stroke-width="1.3" />
<line x1="378.0" y1="373.5" x2="378.0" y2="512.5" stroke="#6a6a6a" stroke-width="1.2" />
<line x1="173.5" y1="373.5" x2="173.5" y2="376.0" stroke="#000" stroke-width="0.9" />
<line x1="173.5" y1="512.5" x2="173.5" y2="509.5" stroke="#000" stroke-width="0.9" />
<line x1="196.5" y1="373.5" x2="196.5" y2="376.0" stroke="#000" stroke-width="0.9" />
<line x1="196.5" y1="512.5" x2="196.5" y2="509.5" stroke="#000" stroke-width="0.9" />
<line x1="219.5" y1="373.5" x2="219.5" y2="376.0" stroke="#000" stroke-width="0.9" />
<line x1="219.5" y1="512.5" x2="219.5" y2="509.5" stroke="#000" stroke-width="0.9" />
<line x1="241.5" y1="373.5" x2="241.5" y2="378.5" stroke="#000" stroke-width="0.9" />
<line x1="241.5" y1="512.5" x2="241.5" y2="509.5" stroke="#000" stroke-width="0.9" />
<line x1="264.5" y1="373.5" x2="264.5" y2="376.0" stroke="#000" stroke-width="0.9" />
<line x1="264.5" y1="512.5" x2="264.5" y2="509.5" stroke="#000" stroke-width="0.9" />
<line x1="287.5" y1="373.5" x2="287.5" y2="378.5" stroke="#000" stroke-width="0.9" />
<line x1="287.5" y1="512.5" x2="287.5" y2="509.5" stroke="#000" stroke-width="0.9" />
<line x1="309.5" y1="373.5" x2="309.5" y2="376.0" stroke="#000" stroke-width="0.9" />
<line x1="309.5" y1="512.5" x2="309.5" y2="509.5" stroke="#000" stroke-width="0.9" />
<line x1="332.5" y1="373.5" x2="332.5" y2="378.5" stroke="#000" stroke-width="0.9" />
<line x1="332.5" y1="512.5" x2="332.5" y2="509.5" stroke="#000" stroke-width="0.9" />
<line x1="355.5" y1="373.5" x2="355.5" y2="376.0" stroke="#000" stroke-width="0.9" />
<line x1="355.5" y1="512.5" x2="355.5" y2="509.5" stroke="#000" stroke-width="0.9" />
<line x1="151.0" y1="510.5" x2="157.0" y2="510.5" stroke="#000" stroke-width="1.0" />
<line x1="378.0" y1="510.5" x2="372.0" y2="510.5" stroke="#000" stroke-width="1.0" />
<line x1="151.0" y1="468.5" x2="153.5" y2="468.5" stroke="#000" stroke-width="1.0" />
<line x1="378.0" y1="468.5" x2="375.5" y2="468.5" stroke="#000" stroke-width="1.0" />
<line x1="151.0" y1="426.5" x2="157.0" y2="426.5" stroke="#000" stroke-width="1.0" />
<line x1="378.0" y1="426.5" x2="372.0" y2="426.5" stroke="#000" stroke-width="1.0" />
<line x1="151.0" y1="384.5" x2="153.5" y2="384.5" stroke="#000" stroke-width="1.0" />
<line x1="378.0" y1="384.5" x2="375.5" y2="384.5" stroke="#000" stroke-width="1.0" />
<text x="108.00" y="378.3" font-size="8" font-weight="bold" fill="#000" textLength="7.90" lengthAdjust="spacingAndGlyphs" stroke="none">b)</text>
<text x="132.40" y="430.0" font-size="9.2" font-weight="normal" fill="#000" textLength="14.40" lengthAdjust="spacingAndGlyphs"  stroke="#000">0.5</text>
<text x="141.60" y="513.3" font-size="9.2" font-weight="normal" fill="#000" textLength="5.40" lengthAdjust="spacingAndGlyphs"  stroke="#000">0</text>
<text x="145.30" y="526.0" font-size="9.8" font-weight="normal" fill="#000" textLength="7.90" lengthAdjust="spacingAndGlyphs"  stroke="#000">-1</text>
<text x="196.4" y="526.0" font-size="9.8" text-anchor="middle" font-weight="normal" fill="#000"  stroke="#000">0</text>
<text x="241.8" y="526.0" font-size="9.8" text-anchor="middle" font-weight="normal" fill="#000"  stroke="#000">1</text>
<text x="287.2" y="526.0" font-size="9.8" text-anchor="middle" font-weight="normal" fill="#000"  stroke="#000">2</text>
<text x="332.6" y="526.0" font-size="9.8" text-anchor="middle" font-weight="normal" fill="#000"  stroke="#000">3</text>
<text x="378.0" y="526.0" font-size="9.8" text-anchor="middle" font-weight="normal" fill="#000"  stroke="#000">4</text>
<text x="197.2" y="536.8" font-size="10.4" textLength="132.1" lengthAdjust="spacingAndGlyphs" stroke="#000">Forzamiento radiativo (W m<tspan font-size="6.8" dy="-3.8">-2</tspan><tspan dy="3.8">)</tspan></text>
<text transform="translate(127.6,442.6) rotate(-90)" font-size="9.9" text-anchor="middle" textLength="90.3" lengthAdjust="spacingAndGlyphs" stroke="#000">Probabilidad relativa</text>
<text x="155.00" y="396.0" font-size="6.6" font-weight="bold" fill="#000" textLength="35.90" lengthAdjust="spacingAndGlyphs" stroke="none">entriamiento</text>
<text x="201.60" y="396.0" font-size="6.6" font-weight="bold" fill="#000" textLength="39.30" lengthAdjust="spacingAndGlyphs" stroke="none">calentamiento</text>
<path d="M167 403.5 L190.6 403.5" stroke="#000" stroke-width="1.3"/><path d="M161 403.5 L169.5 399 L167.8 403.5 L169.5 408 Z" fill="#000"/>
<path d="M202.8 403.5 L225 403.5" stroke="#000" stroke-width="1.3"/><path d="M231.1 403.5 L222.6 399 L224.3 403.5 L222.6 408 Z" fill="#000"/>
<rect x="156.5" y="430.5" width="79" height="19.5" fill="#fff"/>
<text x="157.60" y="438.9" font-size="8.6" font-weight="normal" fill="#E8201E" textLength="76.70" lengthAdjust="spacingAndGlyphs"  stroke="#E8201E">Forzamiento radiativo</text>
<text x="163.90" y="448.3" font-size="8.6" font-weight="normal" fill="#E8201E" textLength="63.80" lengthAdjust="spacingAndGlyphs"  stroke="#E8201E">antropógeno total</text>
<text transform="translate(385.6,411.9) rotate(90)" font-size="8.6" fill="#999" textLength="97.3" lengthAdjust="spacingAndGlyphs" stroke="#999">©IPCC  2007: WG1-AR4</text>
</svg>
</body></html>
